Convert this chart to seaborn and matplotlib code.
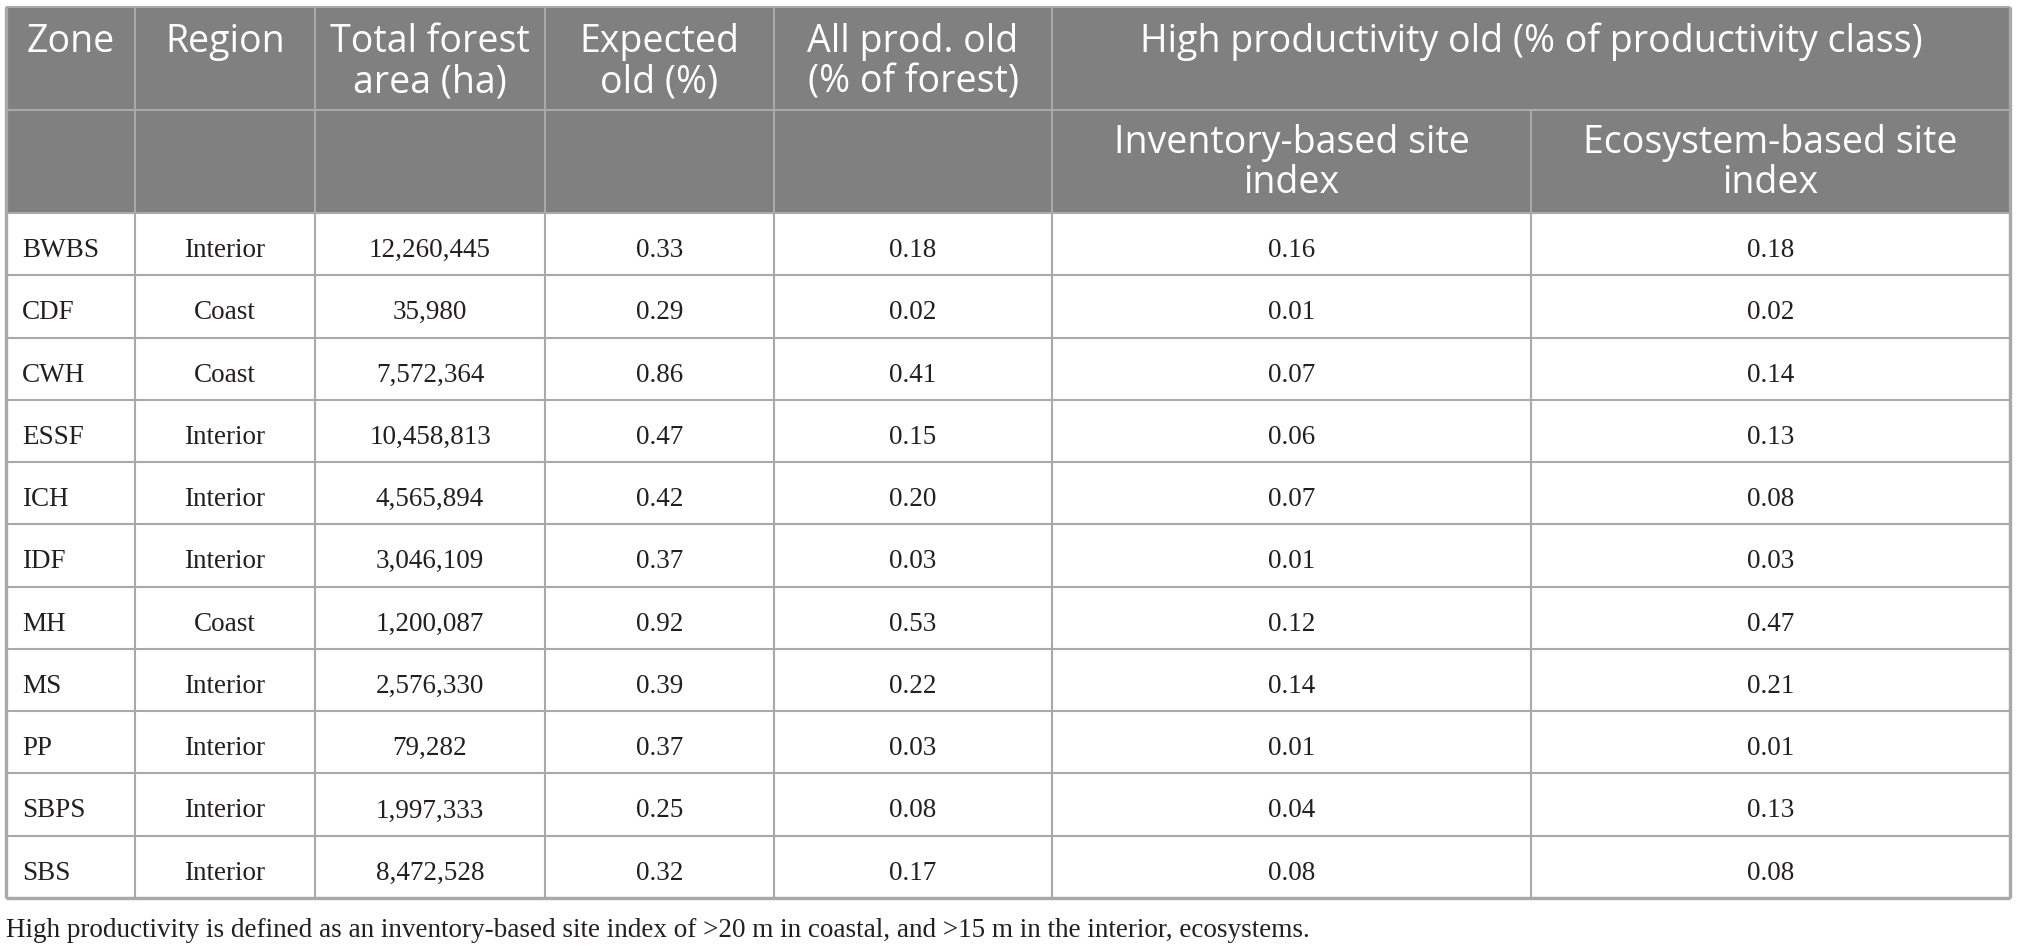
import pandas as pd
import matplotlib.pyplot as plt
import seaborn as sns

# Table values
zones = ["BWBS", "CDF", "CWH", "ESSF", "ICH", "IDF", "MH", "MS", "PP", "SBPS", "SBS"]
regions = ["Interior", "Coast", "Coast", "Interior", "Interior", "Interior",
           "Coast", "Interior", "Interior", "Interior", "Interior"]
total_area = [12260445, 35980, 7572364, 10458813, 4565894, 3046109,
              1200087, 2576330, 79282, 1997333, 8472528]
expected_old = [0.33, 0.29, 0.86, 0.47, 0.42, 0.37, 0.92, 0.39, 0.37, 0.25, 0.32]
all_prod_old = [0.18, 0.02, 0.41, 0.15, 0.20, 0.03, 0.53, 0.22, 0.03, 0.08, 0.17]
inventory_si = [0.16, 0.01, 0.07, 0.06, 0.07, 0.01, 0.12, 0.14, 0.01, 0.04, 0.08]
ecosystem_si = [0.18, 0.02, 0.14, 0.13, 0.08, 0.03, 0.47, 0.21, 0.01, 0.13, 0.08]

header_top = ["Zone", "Region", "Total forest\narea (ha)", "Expected\nold (%)",
              "All prod. old\n(% of forest)"]
header_span = "High productivity old (% of productivity class)"
header_sub = ["Inventory-based site\nindex", "Ecosystem-based site\nindex"]
footnote = ("High productivity is defined as an inventory-based site index of >20 m in "
            "coastal, and >15 m in the interior, ecosystems.")

df = pd.DataFrame({
    "zone": zones,
    "region": regions,
    "area": [f"{v:,}" for v in total_area],
    "expected": [f"{v:.2f}" for v in expected_old],
    "allprod": [f"{v:.2f}" for v in all_prod_old],
    "inv": [f"{v:.2f}" for v in inventory_si],
    "eco": [f"{v:.2f}" for v in ecosystem_si],
})

sns.set_style("white")

# layout (pixels)
W, H = 2017, 952
col_edges = [6, 135, 315, 545, 774, 1052, 1531, 2010]
top, head1, head2, bottom = 7, 110, 213, 898
row_h = (bottom - head2) / len(df)
header_bg = "#808080"
line_c = "#a9a9a9"
text_c = "#231f20"
lw = 1.5
head_font = dict(family="Open Sans", size=27, color="white")
body_font = dict(family="Liberation Serif", size=19.5, color=text_c)

fig = plt.figure(figsize=(W / 100, H / 100), dpi=100)
ax = fig.add_axes([0, 0, 1, 1])
ax.set_xlim(0, W)
ax.set_ylim(H, 0)
ax.axis("off")

# header background
ax.add_patch(plt.Rectangle((col_edges[0], top), col_edges[-1] - col_edges[0],
                           head2 - top, color=header_bg, lw=0))

# header text
def header_text(x, y0, label):
    for k, line in enumerate(label.split("\n")):
        ax.text(x, y0 + k * 40, line, ha="center", va="baseline", **head_font)

for j, label in enumerate(header_top):
    header_text((col_edges[j] + col_edges[j + 1]) / 2, 52, label)
header_text((col_edges[5] + col_edges[7]) / 2, 52, header_span)
for j, label in enumerate(header_sub):
    header_text((col_edges[5 + j] + col_edges[6 + j]) / 2, 153, label)

# body text
cols = ["zone", "region", "area", "expected", "allprod", "inv", "eco"]
for i, row in df.iterrows():
    y = head2 + i * row_h + 44
    for j, c in enumerate(cols):
        if j == 0:
            ax.text(col_edges[0] + 16, y, row[c], ha="left", va="baseline", **body_font)
        else:
            ax.text((col_edges[j] + col_edges[j + 1]) / 2, y, row[c],
                    ha="center", va="baseline", **body_font)

# grid lines
ax.hlines([top, head1, head2], col_edges[0], col_edges[-1], color=line_c, lw=lw)
ax.hlines([head2 + k * row_h for k in range(1, len(df) + 1)],
          col_edges[0], col_edges[-1], color=line_c, lw=lw)
for j, x in enumerate(col_edges):
    if j == 6:
        ax.vlines(x, head1, bottom, color=line_c, lw=lw)
    else:
        ax.vlines(x, top, bottom, color=line_c, lw=lw)
ax.hlines(bottom, col_edges[0], col_edges[-1], color=line_c, lw=lw * 1.6)
ax.vlines([col_edges[0], col_edges[-1]], top, bottom, color=line_c, lw=lw * 1.6)

ax.text(col_edges[0], 937, footnote, ha="left", va="baseline",
        family="Liberation Serif", size=19.5, color=text_c)

fig.savefig("out.png", dpi=100)
